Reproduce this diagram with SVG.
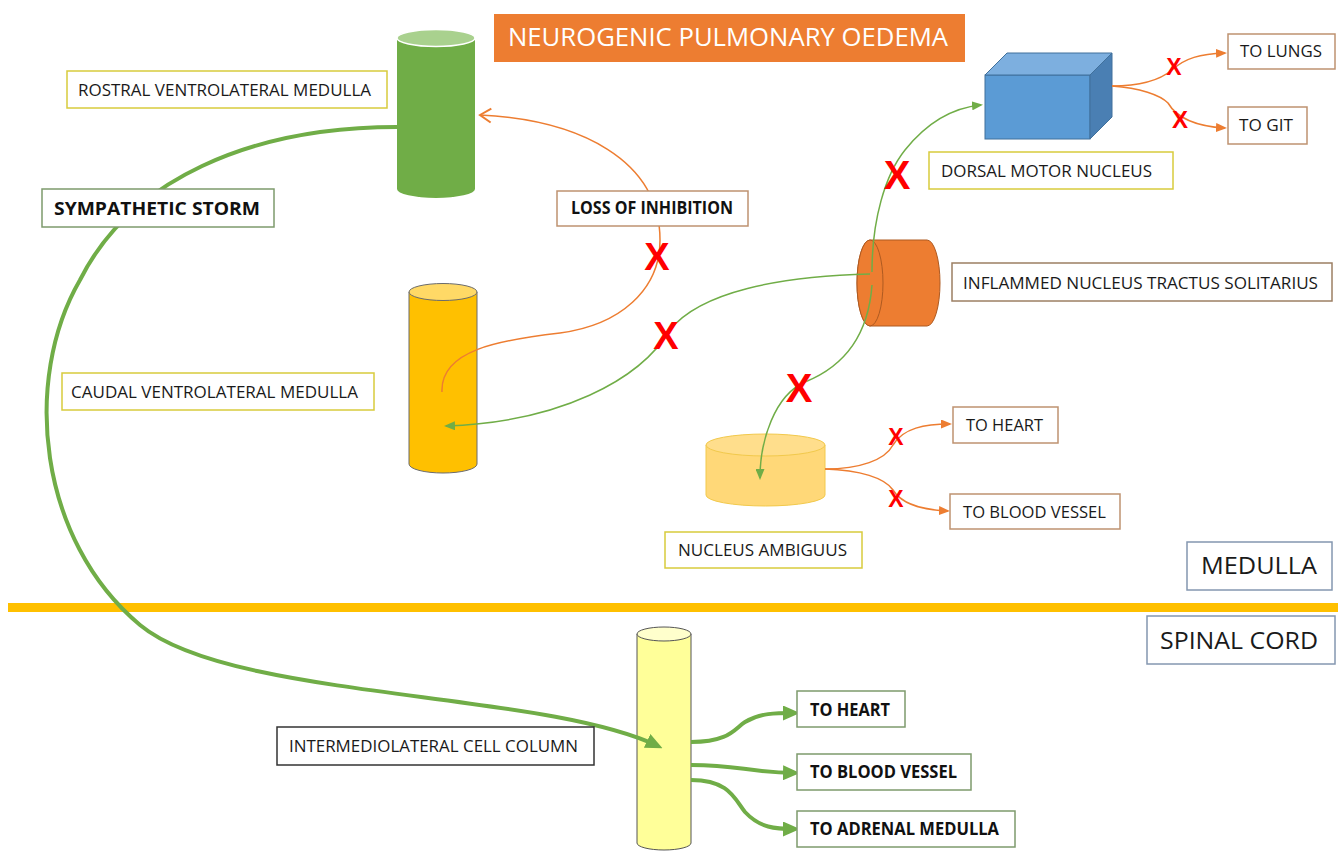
<svg xmlns="http://www.w3.org/2000/svg" width="1338" height="852" viewBox="0 0 1338 852">
<style>
.lbl{fill:#fff;stroke-width:1.5}
.t{font-family:"Open Sans","Liberation Sans",sans-serif;font-size:16.5px;fill:#1a1a1a}
.tb{font-family:"Open Sans","Liberation Sans",sans-serif;font-size:18px;font-weight:bold;fill:#111}
.big{font-family:"Open Sans","Liberation Sans",sans-serif;font-size:24px;fill:#1a1a1a}
.yel{stroke:#D8CB3C}
.tan{stroke:#BE9270}
.sg{stroke:#7E9A6C}
.bg{stroke:#8497B0}
.x{font-family:"Liberation Sans",sans-serif;font-weight:bold;fill:#FF0000;text-anchor:middle}
.co{fill:none;stroke:#ED7D31;stroke-width:1.5}
.cg{fill:none;stroke:#70AD47;stroke-width:1.5}
.cgt{fill:none;stroke:#70AD47;stroke-width:4}
</style>
<defs>
<marker id="aO" markerUnits="userSpaceOnUse" markerWidth="11" markerHeight="9" viewBox="0 0 11 9" refX="9" refY="4.5" orient="auto"><path d="M0,0 L11,4.5 L0,9 z" fill="#ED7D31"/></marker>
<marker id="aG" markerUnits="userSpaceOnUse" markerWidth="11" markerHeight="9" viewBox="0 0 11 9" refX="9" refY="4.5" orient="auto"><path d="M0,0 L11,4.5 L0,9 z" fill="#70AD47"/></marker>
<marker id="aGT" markerUnits="userSpaceOnUse" markerWidth="17" markerHeight="15" viewBox="0 0 17 15" refX="12" refY="7.5" orient="auto"><path d="M0,0 L17,7.5 L0,15 z" fill="#70AD47"/></marker>
<marker id="chO" markerUnits="userSpaceOnUse" markerWidth="16" markerHeight="18" viewBox="-2 -2 16 18" refX="11" refY="7" orient="auto"><path d="M0,0 L11,7 L0,14" fill="none" stroke="#ED7D31" stroke-width="2"/></marker>
</defs>
<rect width="1338" height="852" fill="#fff"/>

<!-- divider -->
<rect x="8" y="603" width="1330" height="9" fill="#FFC000"/>

<!-- title -->
<g id="title">
<rect x="494" y="14" width="471" height="48" fill="#ED7D31"/>
<text x="508" y="46" font-family="'Open Sans','Liberation Sans',sans-serif" font-size="25" fill="#fff" textLength="440" lengthAdjust="spacingAndGlyphs">NEUROGENIC PULMONARY OEDEMA</text>
</g>

<!-- shape nodes -->
<g id="rvm">
<path d="M397,38 L397,189 A39,9 0 0 0 475,189 L475,38 Z" fill="#70AD47"/>
<ellipse cx="436" cy="38" rx="39" ry="8.5" fill="#A9D18E" stroke="#fff" stroke-width="1.5"/>
</g>
<g id="cvlm">
<path d="M409,292 L409,464 A34,9 0 0 0 477,464 L477,292 Z" fill="#FFC000" stroke="#6b6b6b" stroke-width="1"/>
<ellipse cx="443" cy="292" rx="34" ry="8.5" fill="#FFD966" stroke="#6b6b6b" stroke-width="1"/>
</g>
<g id="dmn">
<rect x="985" y="75" width="105" height="64" fill="#5B9BD5" stroke="#41719C" stroke-width="1"/>
<polygon points="985,75 1007,53 1112,53 1090,75" fill="#7DAFDF" stroke="#41719C" stroke-width="1"/>
<polygon points="1090,75 1112,53 1112,117 1090,139" fill="#4A7FB3" stroke="#41719C" stroke-width="1"/>
</g>
<g id="nts">
<path d="M870,240 L927,240 A13,43 0 0 1 927,326 L870,326 A13,43 0 0 1 870,240 Z" fill="#ED7D31" stroke="#AE5A21" stroke-width="1"/>
<ellipse cx="870" cy="283" rx="13" ry="43" fill="#ED7D31" stroke="#AE5A21" stroke-width="1"/>
</g>
<g id="na">
<path d="M706,445 L706,495 A59.5,11 0 0 0 825,495 L825,445 Z" fill="#FFD878" stroke="#F2C94C" stroke-width="1"/>
<ellipse cx="765.5" cy="445" rx="59.5" ry="11" fill="#FFDE8C" stroke="#F2C94C" stroke-width="1"/>
</g>
<g id="iml">
<path d="M637,634 L637,843 A27,7 0 0 0 691,843 L691,634 Z" fill="#FFFF99" stroke="#555" stroke-width="1"/>
<ellipse cx="664" cy="634" rx="27" ry="7" fill="#FFFFCC" stroke="#555" stroke-width="1"/>
</g>

<!-- connectors -->
<g id="connectors">
<path class="cgt" d="M397,127 C 250,127 130,180 80,280 C 22,380 38,540 140,625 C 230,700 540,690 658,746" marker-end="url(#aGT)"/>
<path class="co" stroke-width="2" d="M442,392 C 440,350 500,340 560,333 C 620,325 660,290 660,240 C 660,160 580,120 480,115" marker-end="url(#chO)"/>
<path class="cg" d="M872,272 C 872,220 885,175 905,150 C 925,125 950,108 981,105" marker-end="url(#aG)"/>
<path class="cg" d="M870,274 C 780,276 700,292 670,330 C 640,380 560,422 446,426" marker-end="url(#aG)"/>
<path class="cg" d="M872,285 C 868,340 840,368 805,382 C 775,395 760,440 760,478" marker-end="url(#aG)"/>
<path class="co" d="M1112,86 C 1140,86 1160,80 1172,70 C 1185,58 1200,54 1225,53" marker-end="url(#aO)"/>
<path class="co" d="M1112,86 C 1140,88 1160,95 1168,103 C 1175,115 1190,126 1225,128" marker-end="url(#aO)"/>
<path class="co" d="M825,469 C 860,469 885,460 893,445 C 903,428 925,424 950,424" marker-end="url(#aO)"/>
<path class="co" d="M825,469 C 860,470 885,478 893,490 C 902,505 925,510 948,511" marker-end="url(#aO)"/>
<path class="cgt" d="M691,742 C 730,742 735,728 745,722 C 760,713 775,713 795,713" marker-end="url(#aGT)"/>
<path class="cgt" d="M691,765 C 740,765 745,772 795,773" marker-end="url(#aGT)"/>
<path class="cgt" d="M691,780 C 730,780 735,800 745,812 C 760,828 775,829 795,829" marker-end="url(#aGT)"/>
<text class="x" x="657" y="270" font-size="38">X</text>
<text class="x" x="666" y="349" font-size="38">X</text>
<text class="x" x="897" y="189" font-size="40">X</text>
<text class="x" x="799" y="402" font-size="40">X</text>
<text class="x" x="1174" y="75" font-size="23">X</text>
<text class="x" x="1180" y="128" font-size="24">X</text>
<text class="x" x="896" y="445" font-size="23">X</text>
<text class="x" x="896" y="507" font-size="23">X</text>
</g>

<!-- label nodes -->
<g id="lbl-rvm"><rect class="lbl yel" x="67" y="71" width="320" height="37"/><text class="t" x="78" y="96" textLength="293" lengthAdjust="spacingAndGlyphs">ROSTRAL VENTROLATERAL MEDULLA</text></g>
<g id="lbl-storm"><rect class="lbl sg" x="42" y="189" width="232" height="38"/><text class="tb" x="54" y="215" textLength="206" lengthAdjust="spacingAndGlyphs">SYMPATHETIC STORM</text></g>
<g id="lbl-loss"><rect class="lbl tan" x="557" y="191" width="191" height="35"/><text class="tb" font-size="16" x="571" y="214" textLength="162" lengthAdjust="spacingAndGlyphs">LOSS OF INHIBITION</text></g>
<g id="lbl-dmn"><rect class="lbl yel" x="929" y="152" width="244" height="37"/><text class="t" x="941" y="177" textLength="211" lengthAdjust="spacingAndGlyphs">DORSAL MOTOR NUCLEUS</text></g>
<g id="lbl-nts"><rect class="lbl" stroke="#9C7F63" x="952" y="263" width="380" height="38"/><text class="t" x="963" y="289" textLength="355" lengthAdjust="spacingAndGlyphs">INFLAMMED NUCLEUS TRACTUS SOLITARIUS</text></g>
<g id="lbl-cvlm"><rect class="lbl yel" x="62" y="373" width="312" height="37"/><text class="t" x="71" y="398" textLength="287" lengthAdjust="spacingAndGlyphs">CAUDAL VENTROLATERAL MEDULLA</text></g>
<g id="lbl-na"><rect class="lbl yel" x="665" y="532" width="197" height="36"/><text class="t" x="678" y="556" textLength="169" lengthAdjust="spacingAndGlyphs">NUCLEUS AMBIGUUS</text></g>
<g id="to-lungs"><rect class="lbl tan" x="1228" y="34" width="107" height="35"/><text class="t" x="1240" y="57" textLength="82" lengthAdjust="spacingAndGlyphs">TO LUNGS</text></g>
<g id="to-git"><rect class="lbl tan" x="1228" y="107" width="79" height="37"/><text class="t" x="1239" y="131" textLength="54" lengthAdjust="spacingAndGlyphs">TO GIT</text></g>
<g id="to-heart-m"><rect class="lbl tan" x="953" y="407" width="105" height="36"/><text class="t" x="966" y="431" textLength="77" lengthAdjust="spacingAndGlyphs">TO HEART</text></g>
<g id="to-bv-m"><rect class="lbl tan" x="950" y="494" width="170" height="35"/><text class="t" x="963" y="518" textLength="143" lengthAdjust="spacingAndGlyphs">TO BLOOD VESSEL</text></g>
<g id="lbl-medulla"><rect class="lbl bg" x="1187" y="542" width="145" height="48"/><text class="big" x="1201" y="574" textLength="116" lengthAdjust="spacingAndGlyphs">MEDULLA</text></g>
<g id="lbl-spinal"><rect class="lbl bg" x="1147" y="616" width="188" height="48"/><text class="big" x="1160" y="649" textLength="158" lengthAdjust="spacingAndGlyphs">SPINAL CORD</text></g>
<g id="lbl-iml"><rect class="lbl" stroke="#333" stroke-width="1.2" x="277" y="727" width="317" height="38"/><text class="t" x="289" y="752" textLength="289" lengthAdjust="spacingAndGlyphs">INTERMEDIOLATERAL CELL COLUMN</text></g>
<g id="to-heart-s"><rect class="lbl sg" x="797" y="691" width="108" height="36"/><text class="tb" x="810" y="716" textLength="80" lengthAdjust="spacingAndGlyphs">TO HEART</text></g>
<g id="to-bv-s"><rect class="lbl sg" x="797" y="754" width="174" height="36"/><text class="tb" x="810" y="778" textLength="147" lengthAdjust="spacingAndGlyphs">TO BLOOD VESSEL</text></g>
<g id="to-adrenal"><rect class="lbl sg" x="797" y="811" width="218" height="36"/><text class="tb" x="810" y="835" textLength="189" lengthAdjust="spacingAndGlyphs">TO ADRENAL MEDULLA</text></g>
</svg>
